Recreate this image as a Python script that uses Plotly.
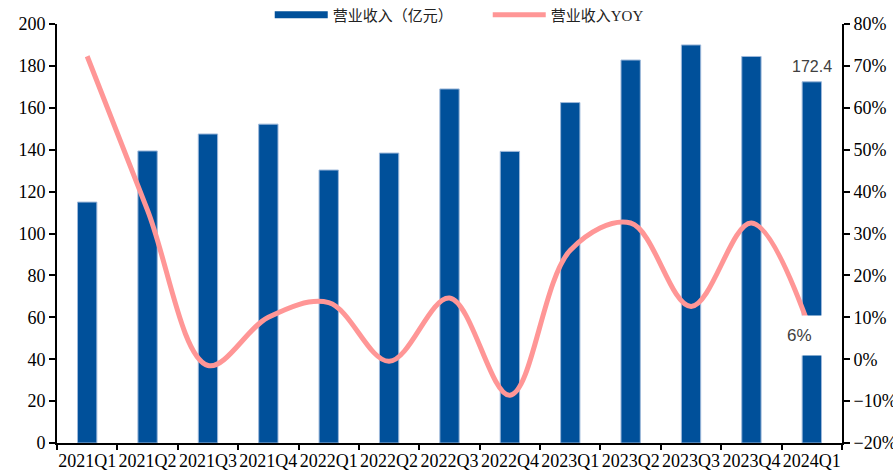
import plotly.graph_objects as go

quarters = ["2021Q1", "2021Q2", "2021Q3", "2021Q4", "2022Q1", "2022Q2", "2022Q3",
            "2022Q4", "2023Q1", "2023Q2", "2023Q3", "2023Q4", "2024Q1"]
revenue = [115.0, 139.4, 147.5, 152.2, 130.3, 138.4, 169.0, 139.2, 162.5, 182.8, 190.0, 184.5, 172.4]
yoy = [72.3, 35.5, -1.5, 10.0, 13.5, -0.5, 14.6, -8.6, 26.0, 32.5, 12.6, 32.5, 6.0]
bar_name = "营业收入（亿元）"
line_name = "营业收入YOY"
last_rev_label = "172.4"
last_yoy_label = "6%"

BLUE = "#00509A"
PINK = "#FF9696"
SERIF = "Liberation Serif, Times New Roman, serif"

fig = go.Figure()
fig.add_trace(go.Bar(x=quarters, y=revenue, name=bar_name, width=0.32,
                     marker=dict(color=BLUE, line=dict(color="#9DB8DA", width=1)),
                     showlegend=False, yaxis="y"))
# legend proxy for the bar series (wide rectangle like the original)
fig.add_trace(go.Scatter(x=[None], y=[None], mode="lines", name=bar_name,
                         line=dict(color=BLUE, width=7), yaxis="y"))
fig.add_trace(go.Scatter(x=quarters, y=yoy, name=line_name, mode="lines",
                         line=dict(color=PINK, width=5, shape="spline", smoothing=1.0),
                         yaxis="y2"))

fig.add_annotation(x=quarters[-1], y=revenue[-1], xref="x", yref="y", text=last_rev_label,
                   showarrow=False, yshift=15, font=dict(family="Liberation Sans", size=16, color="#404040"))
fig.add_annotation(x=quarters[-1], y=yoy[-1], xref="x", yref="y2", text=last_yoy_label,
                   showarrow=False, xshift=-12, yshift=-1, bgcolor="white", borderpad=10,
                   font=dict(family="Liberation Sans", size=17, color="#404040"))

fig.update_layout(
    width=893, height=474,
    margin=dict(l=57, r=51, t=24, b=31, autoexpand=False),
    plot_bgcolor="white", paper_bgcolor="white",
    font=dict(family=SERIF, size=17, color="black"),
    legend=dict(orientation="h", x=0.271, xanchor="left", y=1.0215, yanchor="middle",
                itemwidth=53, entrywidth=150, entrywidthmode="pixels",
                font=dict(family="Liberation Serif, Noto Sans CJK SC", size=15, color="#222"),
                bgcolor="rgba(0,0,0,0)", traceorder="normal"),
    xaxis=dict(type="category", showline=True, linecolor="black", linewidth=2,
               ticks="outside", tickson="boundaries", ticklen=5, tickwidth=2, tickcolor="black",
               tickangle=0, tickfont=dict(family=SERIF, size=18), showgrid=False, zeroline=False),
    yaxis=dict(range=[0, 200], dtick=20, showline=True, linecolor="black", linewidth=2,
               ticks="outside", ticklen=6, tickwidth=2, tickcolor="black",
               tickfont=dict(family=SERIF, size=18), showgrid=False, zeroline=False),
    yaxis2=dict(range=[-20, 80], dtick=10, ticksuffix="%", overlaying="y", side="right",
                showline=True, linecolor="black", linewidth=2,
                ticks="outside", ticklen=6, tickwidth=2, tickcolor="black",
                tickfont=dict(family=SERIF, size=18), showgrid=False, zeroline=False),
)

fig.write_html("out.html", config={"displayModeBar": False},
               post_script="document.body.style.margin='0px';document.body.style.overflow='hidden';")
